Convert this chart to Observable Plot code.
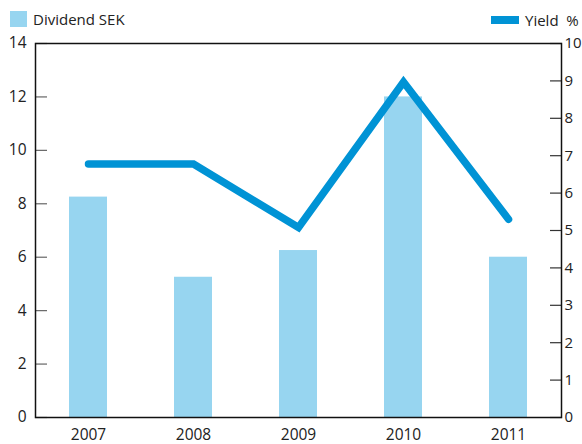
<!DOCTYPE html>
<html>
<head>
<meta charset="utf-8">
<script src="https://cdn.jsdelivr.net/npm/d3@7"></script>
<script src="https://cdn.jsdelivr.net/npm/@observablehq/plot@0.6"></script>
<style>
  body { margin: 0; background: #fff; font-family: "Open Sans", sans-serif; }
  #wrap { width: 582px; }
  #legend { position: relative; height: 30px; font-size: 15px; color: #222; }
  .item { position: absolute; display: flex; align-items: center; white-space: pre; }
</style>
</head>
<body>
<div id="wrap">
  <div id="legend"></div>
  <div id="chart"></div>
</div>
<script>
const years = ["2007", "2008", "2009", "2010", "2011"];
const dividendSEK = [8.25, 5.25, 6.25, 12.0, 6.0];
const yieldPct = [6.78, 6.78, 5.08, 8.97, 5.3];
const leftTicks = [0, 2, 4, 6, 8, 10, 12, 14];
const rightTicks = [0, 1, 2, 3, 4, 5, 6, 7, 8, 9, 10];
const legendLabels = ["Dividend SEK", "Yield  %"];

const barColor = "#97d5f0";
const lineColor = "#0093d5";
const ratio = 14 / 10;

const data = years.map((y, i) => ({year: y, dividend: dividendSEK[i], yld: yieldPct[i]}));

// legend
const legend = document.getElementById("legend");
legend.innerHTML = `
  <div class="item" style="left:10px; top:11px;">
    <span style="display:inline-block;width:17px;height:16px;background:${barColor};"></span>
    <span style="margin-left:6px;line-height:16px;">${legendLabels[0]}</span>
  </div>
  <div class="item" style="left:491px; top:12px;">
    <span style="display:inline-block;width:28px;height:8px;background:${lineColor};"></span>
    <span style="margin-left:6px;line-height:16px;">${legendLabels[1]}</span>
  </div>`;

const chart = Plot.plot({
  width: 582,
  height: 414,
  marginTop: 13,
  marginBottom: 27,
  marginLeft: 35,
  marginRight: 21,
  style: {fontFamily: "Open Sans, sans-serif", fontSize: "15.5px", color: "#222", background: "#fff", overflow: "visible"},
  x: {domain: years, paddingInner: 0.64, paddingOuter: 0.32, label: null},
  y: {domain: [0, 14], label: null},
  marks: [
    Plot.barY(data, {x: "year", y: "dividend", fill: barColor}),
    Plot.line(data, {x: "year", y: d => d.yld * ratio, stroke: lineColor, strokeWidth: 7.5,
      strokeLinecap: "round", strokeLinejoin: "miter", strokeMiterlimit: 10}),
    Plot.axisY(leftTicks, {anchor: "left", tickSize: -12, tickPadding: 21, stroke: "#666", strokeWidth: 1.2, label: null}),
    Plot.axisY(rightTicks.map(d => d * ratio), {anchor: "right", tickSize: -12, tickPadding: 15,
      fontSize: 15, tickFormat: d => String(Math.round(d / ratio)), stroke: "#333", strokeWidth: 1.2, label: null}),
    Plot.axisX({tickSize: 0, tickPadding: 11, label: null}),
    Plot.frame({stroke: "#111", strokeWidth: 1.5})
  ]
});
document.getElementById("chart").appendChild(chart);
</script>
</body>
</html>
